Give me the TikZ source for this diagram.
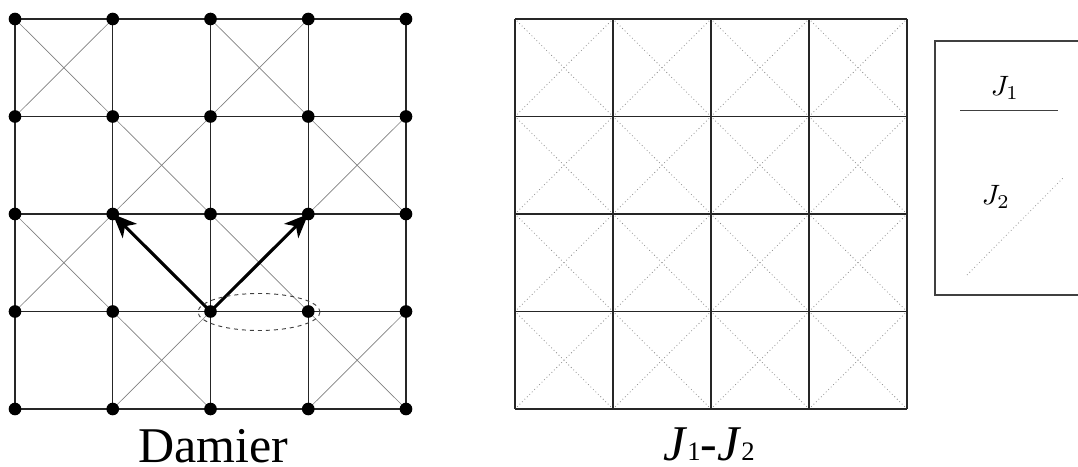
\documentclass[tikz,border=0pt]{standalone}
\usepackage{graphicx}
\usepackage{fontspec}
\newfontfamily\timesfont{Liberation Serif}
\usetikzlibrary{arrows.meta}
\begin{document}
\begin{tikzpicture}[x=0.75pt,y=-0.75pt,
  dot/.style={circle,fill=black,inner sep=0pt,minimum size=9.5pt},
  gridline/.style={draw=black!85,line width=0.8pt},
  diagline/.style={draw=black!50,line width=0.5pt},
  dotdiag/.style={draw=black!45,line width=0.6pt,dotted,shorten >=2pt,shorten <=2pt},
  vecarrow/.style={draw=black,line width=2.3pt,-{Stealth[length=18pt,width=15pt,inset=5pt]}},
  bigtext/.style={font=\timesfont\fontsize{37.5}{40}\selectfont,inner sep=0pt,anchor=base},
  legtext/.style={inner sep=0pt}]
\useasboundingbox (0,0) rectangle (1078,467);
\clip (0,0) rectangle (1078,467);

% ---------- left lattice (Damier) ----------
\foreach \i in {0,...,4} \foreach \j in {0,...,4}
  \coordinate (p\i\j) at ({15+97.75*\i},{19+97.5*\j});
\foreach \k in {0,...,4} {
  \draw[gridline] (p0\k) -- (p4\k);
  \draw[gridline] (p\k0) -- (p\k4);
}
\foreach \i/\j in {0/0,2/0,1/1,3/1,0/2,2/2,1/3,3/3} {
  \pgfmathtruncatemacro{\ia}{\i+1}
  \pgfmathtruncatemacro{\ja}{\j+1}
  \draw[diagline] (p\i\j) -- (p\ia\ja);
  \draw[diagline] (p\ia\j) -- (p\i\ja);
}
\foreach \i in {0,...,4} \foreach \j in {0,...,4}
  \node[dot] (d\i\j) at (p\i\j) {};

\draw[vecarrow] (d23.center) -- (d12.center);
\draw[vecarrow] (d23.center) -- (d32.center);
\draw[dashed,draw=black!75,line width=0.7pt] (259,312) ellipse [x radius=61, y radius=18.5];

\node[bigtext] (damier) at (213,462) {Damier};

% ---------- right lattice (J1-J2) ----------
\foreach \i in {0,...,4} \foreach \j in {0,...,4}
  \coordinate (q\i\j) at ({515+98*\i},{19+97.5*\j});
\foreach \i in {0,...,3} \foreach \j in {0,...,3} {
  \pgfmathtruncatemacro{\ia}{\i+1}
  \pgfmathtruncatemacro{\ja}{\j+1}
  \draw[dotdiag] (q\i\j) -- (q\ia\ja);
  \draw[dotdiag] (q\ia\j) -- (q\i\ja);
}
\foreach \k in {0,...,4} {
  \draw[gridline] (q0\k) -- (q4\k);
  \draw[gridline] (q\k0) -- (q\k4);
}
\node[bigtext] (jlabel) at (709,460)
  {\textit{J}{\fontsize{20}{20}\selectfont 1}-\textit{J}{\fontsize{20}{20}\selectfont 2}};

% ---------- legend ----------
\draw[draw=black!75,line width=0.8pt] (935,41) rectangle (1110,295);
\node[legtext] (j1) at (1005,88) {\scalebox{2.1}{$J_1$}};
\coordinate (la) at (960,110);
\coordinate (lb) at (1058,110);
\draw[draw=black!75,line width=0.7pt] (la) -- (lb);
\node[legtext] (j2) at (996,197) {\scalebox{2.1}{$J_2$}};
\coordinate (lc) at (967,275);
\coordinate (ld) at (1064,177);
\draw[draw=black!40,line width=0.6pt,dotted] (lc) -- (ld);
\end{tikzpicture}
\end{document}
